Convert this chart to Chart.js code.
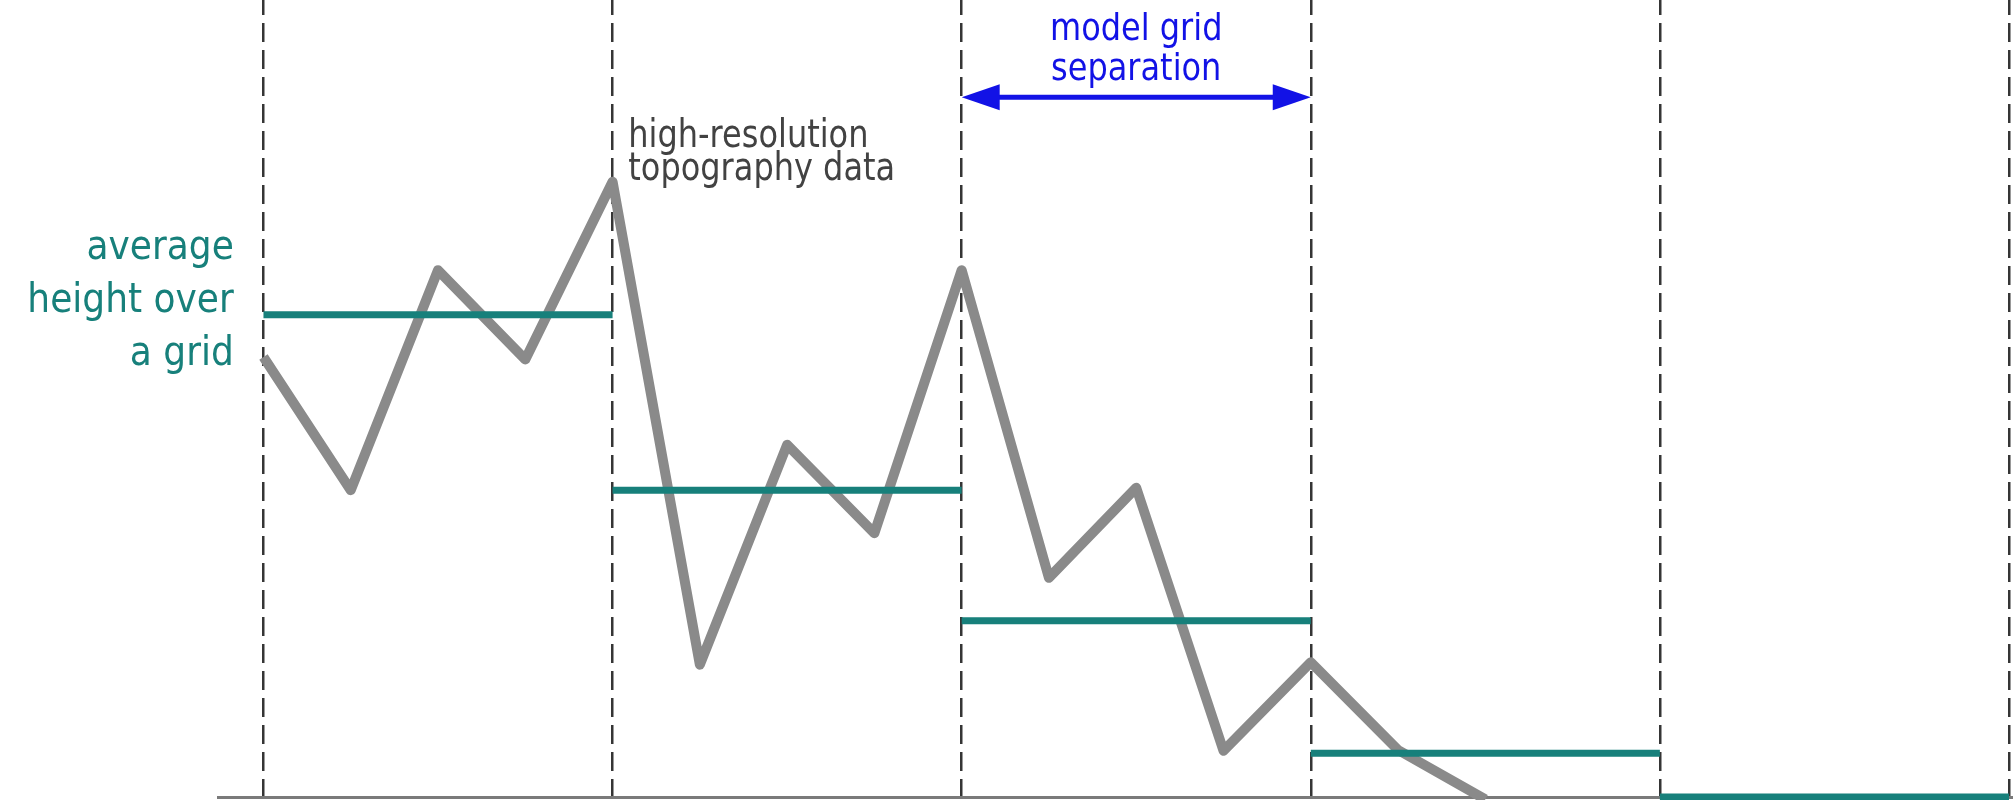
<!DOCTYPE html>
<html>
<head>
<meta charset="utf-8">
<title>Topography vs model grid</title>
<script src="https://cdn.jsdelivr.net/npm/chart.js@4/dist/chart.umd.min.js"></script>
<style>
    body { margin: 0; background: #fff; }
    #wrap { width: 2013px; height: 800px; }
</style>
</head>
<body>
<div id="wrap"><canvas id="chart" width="2013" height="800"></canvas></div>
<script>
// high-resolution samples, 4 per model grid cell
const samplePos = [0, 1, 2, 3, 4, 5, 6, 7, 8, 9, 10, 11, 12, 13, 14];
const topoHeight = [55.2, 38.5, 66.1, 54.9, 77.2, 16.6, 44.2, 33.1, 66.1, 27.5, 38.8, 5.8, 16.9, 5.9, -0.3];

// model grid cell edges and the averaged height in each cell
const gridEdges = [0, 4, 8, 12, 16, 20];
const gridMeans = [60.5, 38.5, 22.1, 5.5, 0];

const teal = "#17807b";
const topoGray = "#8a8a8a";
const blue = "#1212e6";
const fontFam = "'DejaVu Sans', Verdana, sans-serif";

let topoData = samplePos.map((x, i) => ({ x: x, y: topoHeight[i] }));

let meanData = [];
gridMeans.forEach((m, i) => {
    meanData.push({ x: gridEdges[i], y: m });
    meanData.push({ x: gridEdges[i + 1], y: m });
    meanData.push({ x: gridEdges[i + 1], y: null });
});

// text is a bit taller than wide in the original
function tallText(ctx, text, x, y, sy) {
    ctx.save();
    ctx.translate(x, y);
    ctx.scale(1, sy);
    ctx.fillText(text, 0, 0);
    ctx.restore();
}

// labels + arrow drawn on top, placed through the scales
const notes = {
    id: "notes",
    afterDraw(chart) {
        const ctx = chart.ctx;
        const xs = chart.scales.x, ys = chart.scales.y;

        ctx.save();
        ctx.textBaseline = "alphabetic";

        // left label
        ctx.fillStyle = teal;
        ctx.font = "36px " + fontFam;
        ctx.textAlign = "right";
        let lx = xs.getPixelForValue(-0.34);
        let ly = ys.getPixelForValue(67.5);
        ["average", "height over", "a grid"].forEach((t, i) => {
            tallText(ctx, t, lx, ly + i * 53, 1.12);
        });

        // topography label
        ctx.fillStyle = "#424242";
        ctx.font = "32px " + fontFam;
        ctx.textAlign = "left";
        let tx = xs.getPixelForValue(4.18);
        let ty = ys.getPixelForValue(81.6);
        tallText(ctx, "high-resolution", tx, ty, 1.2);
        tallText(ctx, "topography data", tx, ty + 33, 1.2);

        // grid separation arrow
        let ax1 = xs.getPixelForValue(gridEdges[2]);
        let ax2 = xs.getPixelForValue(gridEdges[3]);
        let ay = ys.getPixelForValue(87.8);
        ctx.strokeStyle = blue;
        ctx.fillStyle = blue;
        ctx.lineWidth = 5;
        ctx.beginPath();
        ctx.moveTo(ax1 + 20, ay);
        ctx.lineTo(ax2 - 20, ay);
        ctx.stroke();
        const headL = 38, headW = 13;
        ctx.beginPath();
        ctx.moveTo(ax1, ay);
        ctx.lineTo(ax1 + headL, ay - headW);
        ctx.lineTo(ax1 + headL, ay + headW);
        ctx.closePath();
        ctx.fill();
        ctx.beginPath();
        ctx.moveTo(ax2, ay);
        ctx.lineTo(ax2 - headL, ay - headW);
        ctx.lineTo(ax2 - headL, ay + headW);
        ctx.closePath();
        ctx.fill();

        ctx.font = "32px " + fontFam;
        ctx.textAlign = "center";
        let cx = (ax1 + ax2) / 2;
        tallText(ctx, "model grid", cx, ay - 57, 1.18);
        tallText(ctx, "separation", cx, ay - 17, 1.18);

        ctx.restore();
    }
};

new Chart(document.querySelector("#chart"), {
    type: "line",
    data: {
        datasets: [{
            label: "grid average",
            data: meanData,
            borderColor: teal,
            borderWidth: 7,
            borderCapStyle: "butt",
            pointRadius: 0,
            spanGaps: false,
            tension: 0,
            clip: false
        }, {
            label: "topography",
            data: topoData,
            borderColor: topoGray,
            borderWidth: 10,
            borderJoinStyle: "round",
            borderCapStyle: "butt",
            pointRadius: 0,
            tension: 0,
            clip: false
        }]
    },
    options: {
        responsive: false,
        animation: false,
        layout: { padding: { left: 218, right: 0, top: 0, bottom: 3 } },
        plugins: {
            legend: { display: false },
            tooltip: { enabled: false }
        },
        scales: {
            x: {
                type: "linear",
                min: -0.521,
                max: 20.046,
                afterBuildTicks: (axis) => {
                    axis.ticks = gridEdges.map(v => ({ value: v }));
                },
                ticks: { display: false },
                grid: {
                    color: "#353535",
                    lineWidth: 2.5,
                    drawTicks: false
                },
                border: {
                    display: true,
                    color: "#7a7a7a",
                    width: 3,
                    dash: [19, 8],
                    dashOffset: 4
                }
            },
            y: {
                display: false,
                min: 0,
                max: 100
            }
        }
    },
    plugins: [notes]
});
</script>
</body>
</html>
